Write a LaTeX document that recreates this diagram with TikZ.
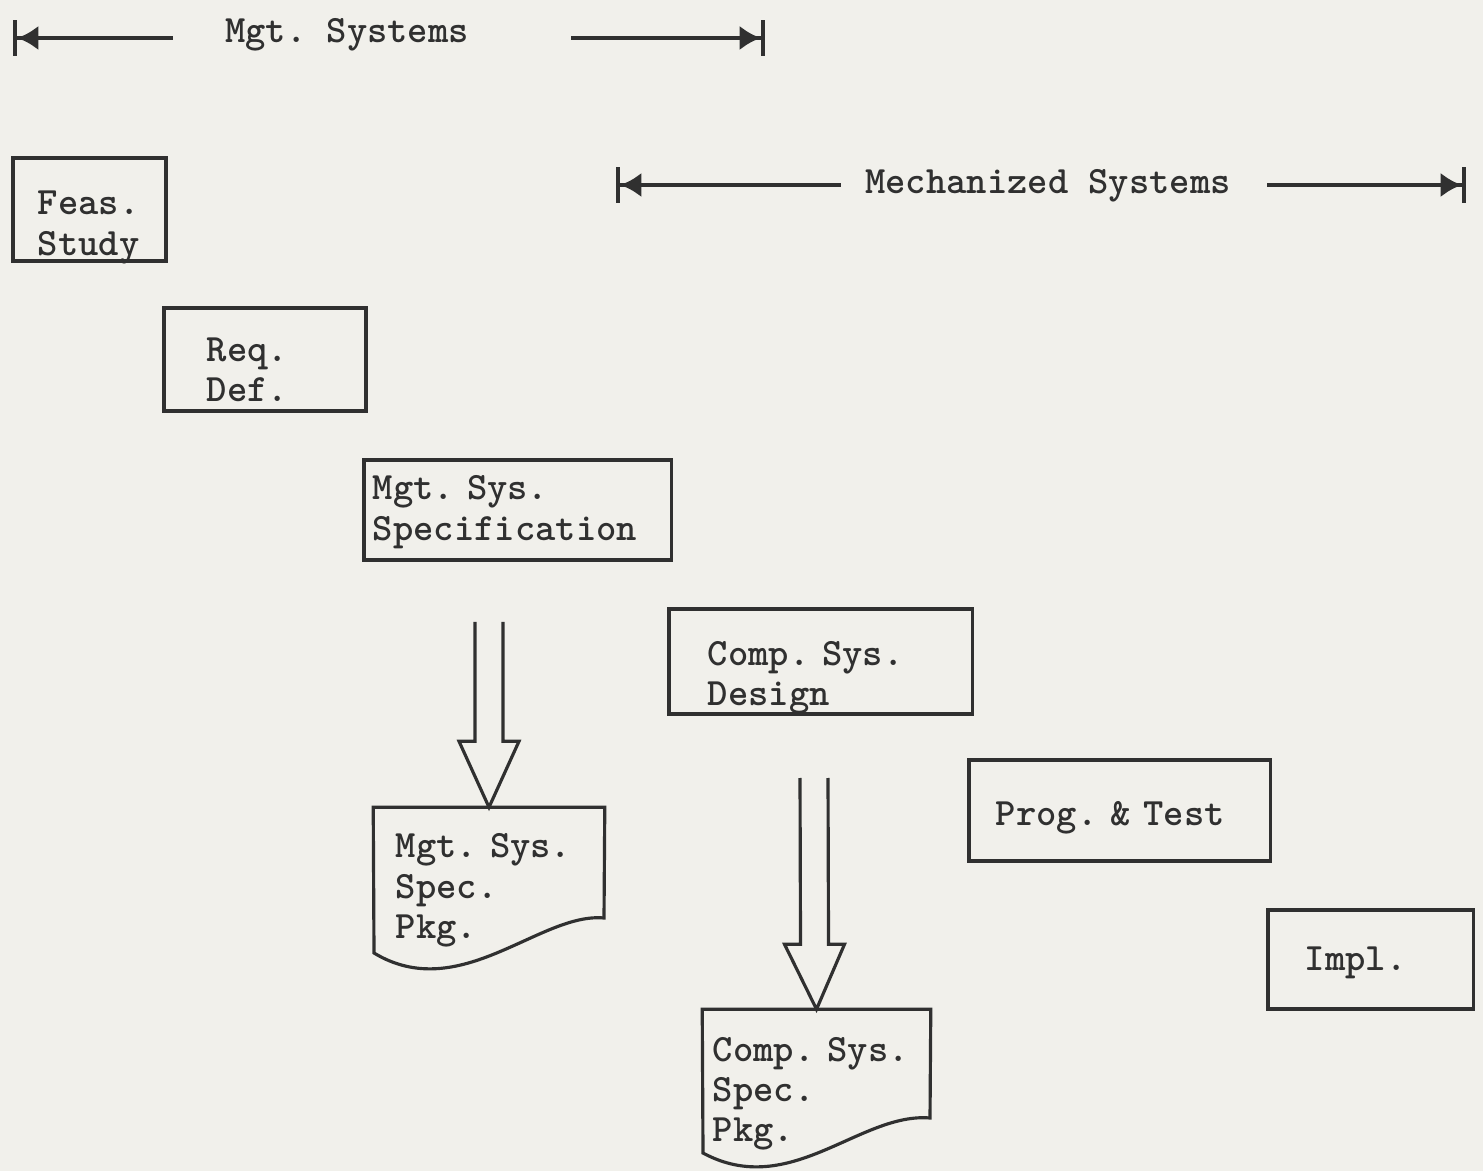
\documentclass[tikz,border=0pt]{standalone}
\usetikzlibrary{arrows.meta,calc}
\definecolor{paper}{HTML}{F1F0EB}
\definecolor{ink}{HTML}{303030}

\begin{document}
\begin{tikzpicture}[x=0.01cm,y=-0.01cm,
  every node/.style={font=\fontsize{11}{11.4}\selectfont\ttfamily\bfseries\frenchspacing,text=ink},
  stage/.style={draw=ink,line width=0.9pt,align=left,inner ysep=0pt},
  pkg/.style={align=left,inner ysep=0pt},
  span/.style={draw=ink,line width=1.2pt,-{Latex[length=6pt,width=7pt]Bar[width=10pt]}},
  hollow/.style={draw=ink,line width=0.9pt,line join=miter},
  pkgline/.style={draw=ink,line width=0.9pt}]
  \fill[paper] (0,0) rectangle (1483,1171);
  \useasboundingbox (0,0) rectangle (1483,1171);

  % the two phases
  \node (mgt) at (347,35) {Mgt. Systems};
  \coordinate (mgtL) at (13,38);
  \coordinate (mgtR) at (765,38);
  \draw[span] ($(mgt.west)+(-40,3)$) -- (mgtL);
  \draw[span] ($(mgt.east)+(90,3)$) -- (mgtR);

  \node (mech) at (1048,186) {Mechanized Systems};
  \coordinate (mechL) at (616,185);
  \coordinate (mechR) at (1466,185);
  \draw[span] ($(mech.west)+(-12,-1)$) -- (mechL);
  \draw[span] ($(mech.east)+(24,-1)$) -- (mechR);

  % stages
  \node[stage,minimum width=1.53cm,minimum height=1.03cm,text width=1.03cm,inner xsep=0.25cm,
        text height=0.405cm,text depth=0.295cm] (feas) at (89.5,209.5) {Feas.\\Study};
  \node[stage,minimum width=2.02cm,minimum height=1.03cm,text width=1.16cm,inner xsep=0.43cm,
        text height=0.372cm,text depth=0.328cm] (req) at (265,359.5) {Req.\\Def.};
  \node[stage,minimum width=3.07cm,minimum height=1.00cm,text width=2.89cm,inner xsep=0.09cm,
        text height=0.25cm,text depth=0.45cm] (mspec) at (517.5,510) {Mgt. Sys.\\Specification};
  \node[stage,minimum width=3.03cm,minimum height=1.05cm,text width=2.25cm,inner xsep=0.39cm,
        text height=0.385cm,text depth=0.315cm] (design) at (820.5,661.5) {Comp. Sys.\\Design};
  \node[stage,minimum width=3.01cm,minimum height=1.01cm,text width=2.47cm,inner xsep=0.27cm,
        text height=0.495cm,text depth=0.205cm] (prog) at (1119.5,810.5) {Prog. \& Test};
  \node[stage,minimum width=2.05cm,minimum height=0.99cm,text width=1.31cm,inner xsep=0.37cm,
        text height=0.455cm,text depth=0.245cm] (impl) at (1370.5,959.5) {Impl.};

  % spec packages
  \node[pkg,minimum width=2.30cm,minimum height=1.62cm,text width=1.86cm,inner xsep=0.22cm,
        text height=0.04cm,text depth=0.66cm] (pkgA) at (489,889) {Mgt. Sys.\\Spec.\\Pkg.};
  \draw[pkgline] (pkgA.north west) -- (pkgA.north east) -- (604,918)
    .. controls (540,912) and (460,1005) .. (374,953) -- cycle;

  \node[pkg,minimum width=2.27cm,minimum height=1.55cm,text width=2.07cm,inner xsep=0.10cm,
        text height=0.092cm,text depth=0.608cm] (pkgB) at (816.5,1087.5) {Comp. Sys.\\Spec.\\Pkg.};
  \draw[pkgline] (pkgB.north west) -- (pkgB.north east) -- (930,1118)
    .. controls (860,1112) and (790,1200) .. (703,1153) -- cycle;

  % hollow arrows
  \coordinate (shaftA) at (489,622);
  \draw[hollow] ($(shaftA)+(-14,0)$) -- ($(pkgA.north)+(-14,-66)$) -- ++(-16,0) -- (pkgA.north)
    -- ($(pkgA.north)+(30,-66)$) -- ++(-16,0) -- ($(shaftA)+(14,0)$);
  \coordinate (shaftB) at (814,778);
  \draw[hollow] ($(shaftB)+(-14,0)$) -- ($(pkgB.north)+(-16,-65)$) -- ++(-16,0) -- (pkgB.north)
    -- ($(pkgB.north)+(28,-65)$) -- ++(-16,0) -- ($(shaftB)+(14,0)$);
\end{tikzpicture}
\end{document}
